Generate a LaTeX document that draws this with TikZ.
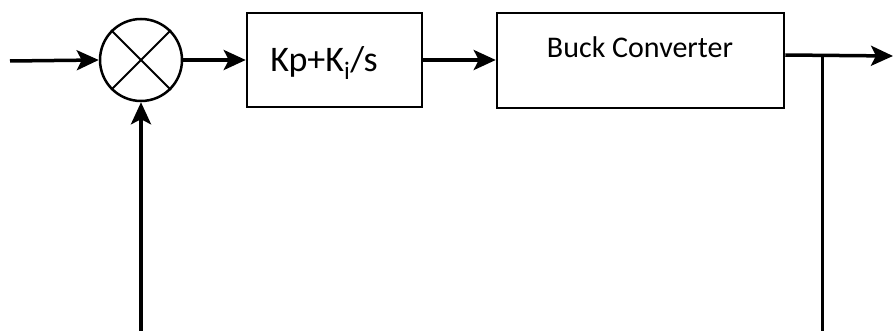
\documentclass[tikz,border=0pt]{standalone}
\usepackage{fontspec}
\setmainfont{Carlito}
\usetikzlibrary{arrows.meta}
\tikzset{
  block/.style={draw, line width=2.5pt, inner sep=0pt},
  sig/.style={line width=3.5pt},
  sigarrow/.style={sig, -{Stealth[length=22pt,width=20pt,inset=5pt]}},
}
\begin{document}
\begin{tikzpicture}[x=1pt,y=-1pt]
  \useasboundingbox (0,0) rectangle (893,331);
  \fill[white] (0,0) rectangle (893,331);

  % summing junction
  \node[circle, draw, line width=2.5pt, minimum size=82pt, inner sep=0pt] (sum) at (141,60) {};
  \draw[line width=2pt] (sum.north west) -- (sum.south east);
  \draw[line width=2pt] (sum.north east) -- (sum.south west);

  % blocks
  \node[block, minimum width=175pt, minimum height=94pt] (pi) at (334.5,60) {};
  \node (pilabel) at (324,63) {\fontsize{36}{40}\selectfont Kp+K\textsubscript{i}/s};
  \node[block, minimum width=287pt, minimum height=95pt] (buck) at (640.5,60.5) {};
  \node (bucklabel) at (640,47) {\fontsize{30}{34}\selectfont Buck Converter};

  % signal path
  \coordinate (in) at (10,61);
  \coordinate (tap) at (822,55);
  \coordinate (out) at (893,56);
  \coordinate (fbR) at (822,331);
  \coordinate (fbL) at (141,331);

  \draw[sigarrow] (in) -- (sum.west);
  \draw[sigarrow] (sum.east) -- (pi.west |- sum.east);
  \draw[sigarrow] (pi.east) -- (buck.west |- pi.east);
  \draw[sigarrow] (buck.east |- tap) -- (out);
  \draw[line width=3pt] (tap) -- (fbR);
  \draw[sigarrow] (fbL) -- (sum.south);
\end{tikzpicture}
\end{document}
